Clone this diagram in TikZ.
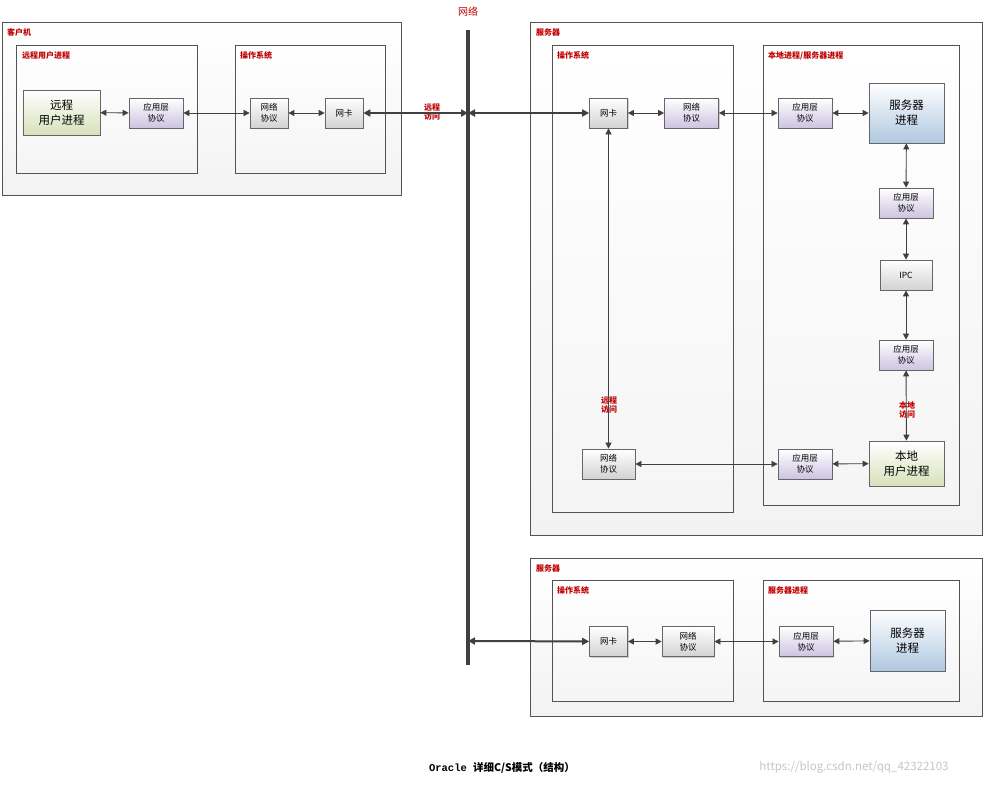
\documentclass[tikz,border=0pt]{standalone}
\usepackage{fontspec}
\setmainfont{Noto Sans CJK SC}
\newfontfamily\capfont{Liberation Mono}
\usetikzlibrary{arrows.meta,shadows}
\definecolor{lred}{HTML}{C00000}
\definecolor{ln}{HTML}{404040}
\tikzset{
 grp/.style={draw=ln!90,line width=0.8pt,top color=white,bottom color=gray!10},
 inn/.style={draw=ln!90,line width=0.8pt,top color=white,bottom color=gray!8},
 ttl/.style={text=lred,font=\bfseries\fontsize{8}{9}\selectfont,anchor=north west,inner sep=0},
 box/.style={draw=ln!80,line width=0.7pt,minimum width=#1,drop shadow={shadow xshift=1pt,shadow yshift=-1pt,opacity=0.35},align=center,inner sep=0,font=\fontsize{8.5}{11}\selectfont},
 gbox/.style={box=38pt,minimum height=30pt,top color=white,bottom color=gray!35},
 pbox/.style={box=54pt,minimum height=30pt,top color=white,bottom color={rgb,255:red,205;green,195;blue,225}},
 big/.style={box=#1,font=\fontsize{11.5}{15}\selectfont},
 arr/.style={draw=ln,line width=0.9pt,{Triangle[length=6pt,width=6pt]}-{Triangle[length=6pt,width=6pt]}},
 thn/.style={draw=ln,line width=0.6pt,{Triangle[length=6pt,width=6pt]}-{Triangle[length=6pt,width=6pt]}},
 thk/.style={draw=ln,line width=2pt,{Triangle[length=7pt,width=7pt]}-{Triangle[length=7pt,width=7pt]}},
 lbl/.style={text=lred,font=\bfseries\fontsize{8}{9.5}\selectfont,align=center,inner sep=0}
}
\begin{document}
\begin{tikzpicture}[x=1pt,y=-1pt]
\useasboundingbox[fill=white] (0,0) rectangle (985,785);
% client
\draw[grp] (2,22) rectangle (401,195); \node[ttl] (t1) at (7,28) {客户机};
\draw[inn] (16,45) rectangle (197,173); \node[ttl] (t2) at (22,51) {远程用户进程};
\draw[inn] (235,45) rectangle (385,173); \node[ttl] (t3) at (240,51) {操作系统};
\node[big=77pt,minimum height=45pt,top color=white,bottom color={rgb,255:red,215;green,225;blue,185}] (rup) at (61.5,112.5) {远程\\用户进程};
\node[pbox] (cap) at (156,113) {应用层\\协议};
\node[gbox] (cnp) at (269,113) {网络\\协议};
\node[gbox] (cnc) at (344,113) {网卡};
% network
\node[text=lred,font=\fontsize{10}{11}\selectfont] (net) at (468,12) {网络};
\coordinate (ntop) at (468,30); \coordinate (nbot) at (468,665);
\draw[ln,line width=4pt] (ntop) -- (nbot);
\coordinate (n1) at (468,113); \coordinate (n2) at (468,641);
\node[lbl] (ra1) at (432,112) {远程\\访问};
% server 1
\draw[grp] (530,22) rectangle (982,535); \node[ttl] (t4) at (536,28) {服务器};
\draw[inn] (552,45) rectangle (733,512); \node[ttl] (t5) at (557,51) {操作系统};
\draw[inn] (763,45) rectangle (959,505); \node[ttl] (t6) at (768,51) {本地进程/服务器进程};
\node[gbox] (snc) at (608.5,113) {网卡};
\node[pbox] (snp) at (691.5,113) {网络\\协议};
\node[pbox] (sap) at (805,113) {应用层\\协议};
\node[big=75pt,minimum height=60pt,top color=white,bottom color={rgb,255:red,175;green,200;blue,225}] (sp) at (906.5,113) {服务器\\进程};
\node[pbox] (ap2) at (906,203) {应用层\\协议};
\node[gbox,minimum width=52pt] (ipc) at (906,275) {IPC};
\node[pbox] (ap3) at (906,355) {应用层\\协议};
\node[big=75pt,minimum height=45pt,top color=white,bottom color={rgb,255:red,215;green,225;blue,185}] (lup) at (906.5,463.5) {本地\\用户进程};
\node[pbox] (ap4) at (805,464) {应用层\\协议};
\node[gbox,minimum width=53pt] (np2) at (608.5,464) {网络\\协议};
\node[lbl] (ra2) at (609,405) {远程\\访问};
\node[lbl] (la) at (907,410) {本地\\访问};
% server 2
\draw[grp] (530,558) rectangle (982,716); \node[ttl] (t7) at (536,564) {服务器};
\draw[inn] (552,580) rectangle (733,701); \node[ttl] (t8) at (557,586) {操作系统};
\draw[inn] (763,580) rectangle (959,701); \node[ttl] (t9) at (768,586) {服务器进程};
\node[gbox] (tnc) at (608.5,641.5) {网卡};
\node[gbox,minimum width=52pt] (tnp) at (688,641.5) {网络\\协议};
\node[pbox] (tap) at (806,641.5) {应用层\\协议};
\node[big=75pt,minimum height=61pt,top color=white,bottom color={rgb,255:red,175;green,200;blue,225}] (tsp) at (907.5,640.5) {服务器\\进程};
% connectors
\draw[arr] (rup) -- (cap);
\draw[thn] (cap) -- (cnp);
\draw[arr] (cnp) -- (cnc);
\draw[thk] (cnc) -- (n1);
\draw[thk] (n1) -- (snc);
\draw[arr] (snc) -- (snp);
\draw[thn] (snp) -- (sap);
\draw[arr] (sap) -- (sp);
\draw[arr] (sp) -- (ap2);
\draw[arr] (ap2) -- (ipc);
\draw[arr] (ipc) -- (ap3);
\draw[arr] (ap3) -- (lup);
\draw[arr] (lup) -- (ap4);
\draw[thn] (ap4) -- (np2);
\draw[thn] (np2) -- (snc);
\draw[thk] (n2) -- (tnc);
\draw[arr] (tnc) -- (tnp);
\draw[thn] (tnp) -- (tap);
\draw[arr] (tap) -- (tsp);
% caption
\node[font=\capfont\bfseries\fontsize{10.5}{12}\selectfont] (cap0) at (502,768) {Oracle \fontspec{Noto Sans CJK SC}详细C/S模式（结构）};
\node[text=gray!45,font=\fontsize{11.5}{13}\selectfont] (wm) at (854,767) {https://blog.csdn.net/qq\_42322103};
\end{tikzpicture}
\end{document}
